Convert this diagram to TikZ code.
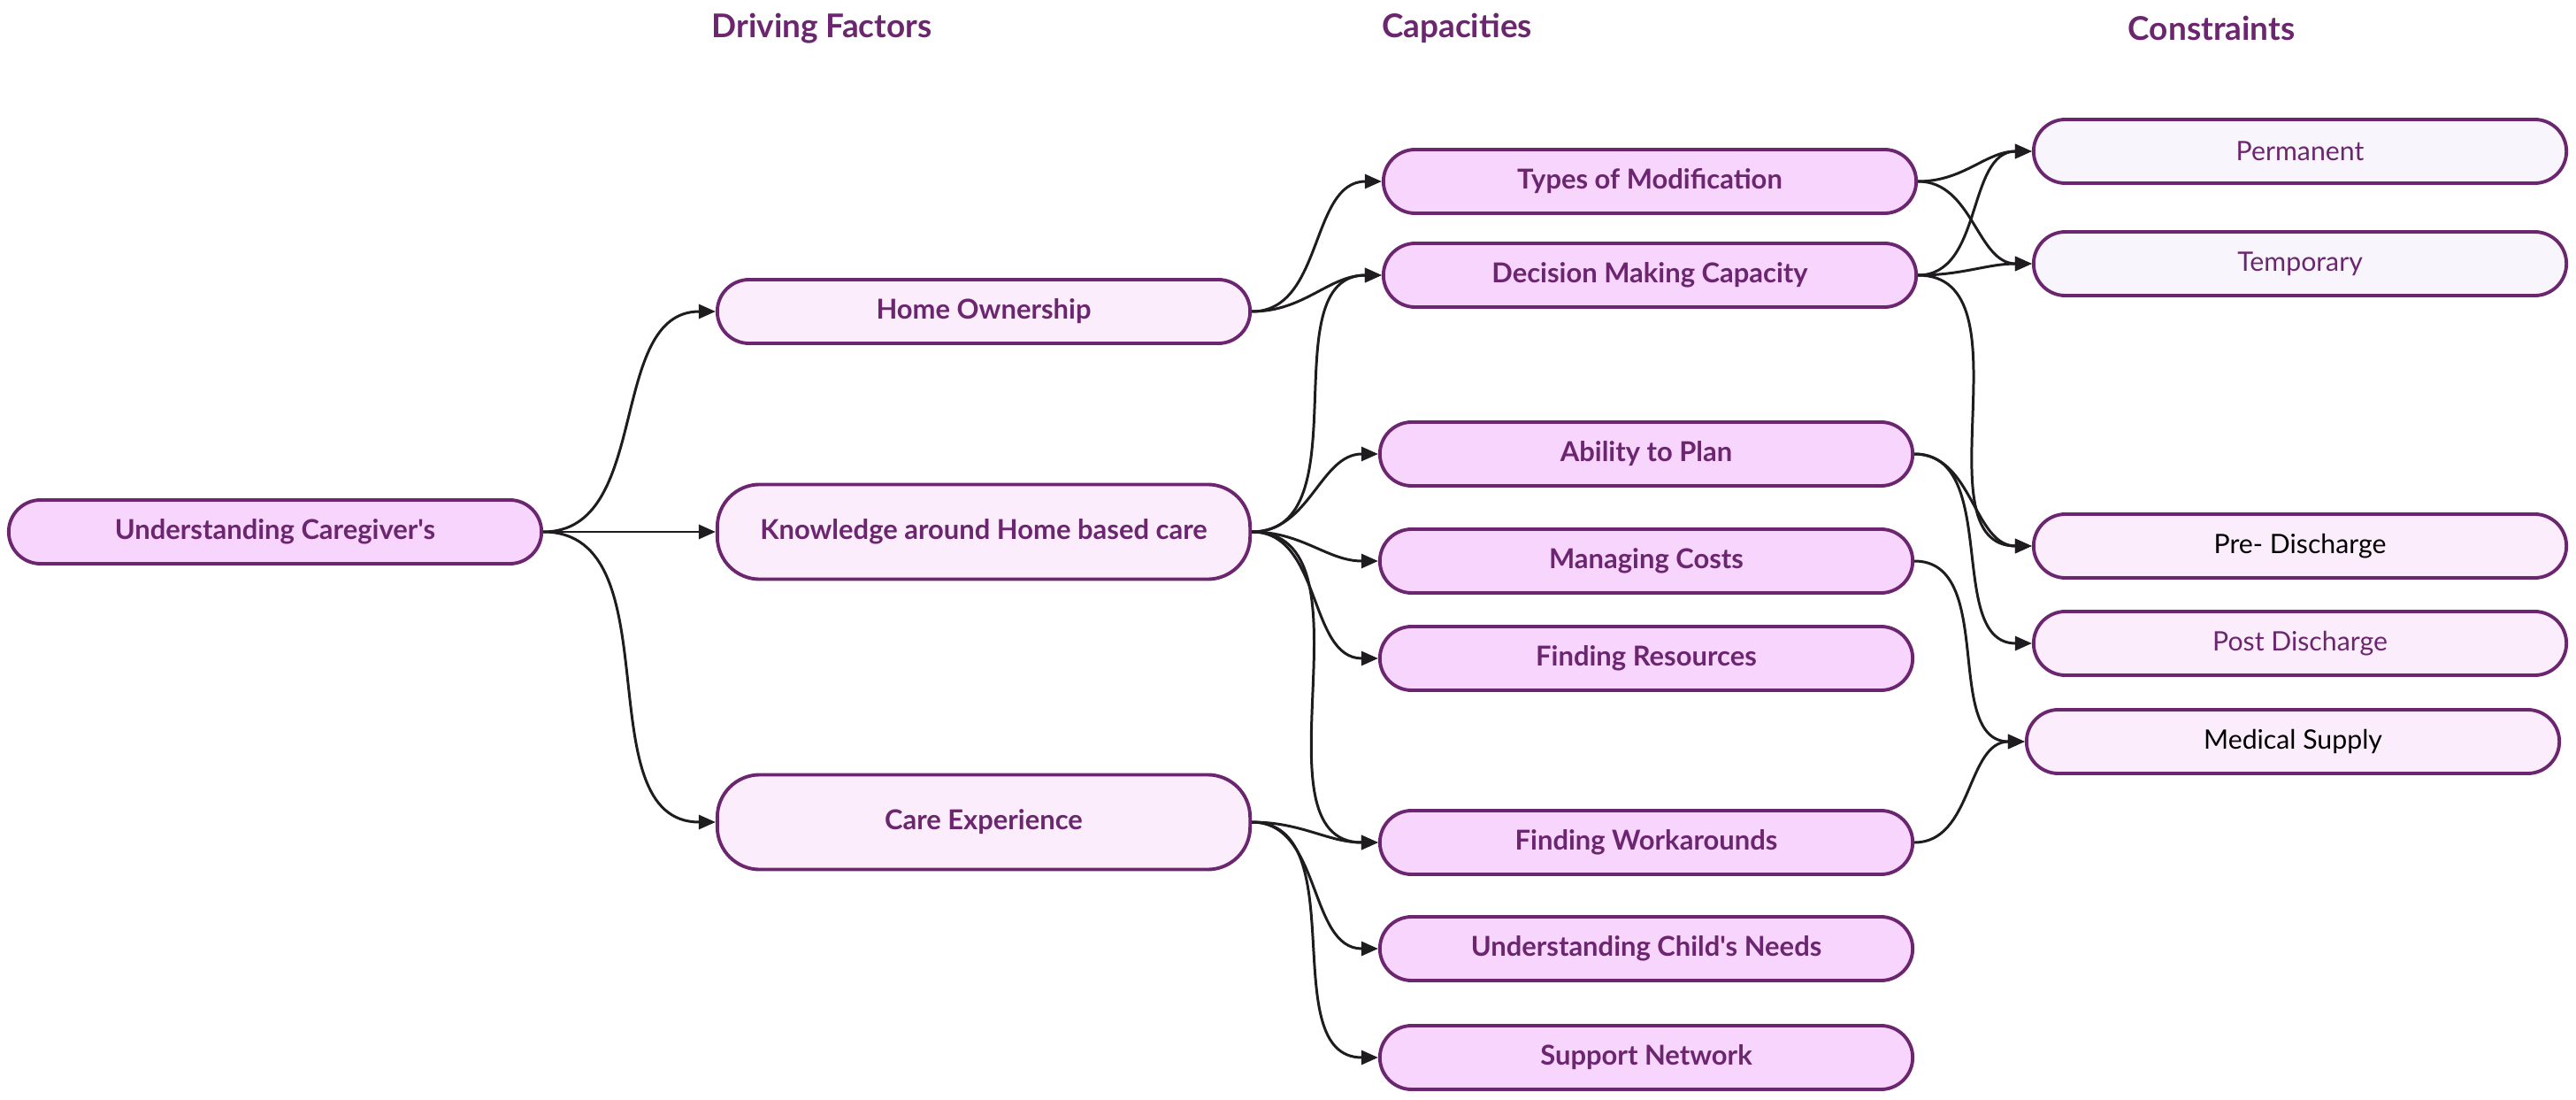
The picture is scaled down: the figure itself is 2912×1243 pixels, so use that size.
\documentclass[tikz,border=0pt]{standalone}
\usepackage{fontspec}
\setmainfont{Lato}[Ligatures=TeXOff]
\definecolor{plum}{RGB}{108,38,112}
\definecolor{pinkfill}{RGB}{247,213,253}
\definecolor{palefill}{RGB}{251,237,252}
\definecolor{lilacfill}{RGB}{248,246,252}
\definecolor{edgeink}{RGB}{30,28,30}
\usetikzlibrary{arrows.meta}

\begin{document}
\begin{tikzpicture}[x=0.01cm, y=-0.01cm,
  box/.style={draw=plum, line width=1.1pt, rounded corners=0.36cm, fill=pinkfill,
    minimum width=6.02cm, minimum height=0.72cm, inner sep=0pt, text=plum,
    font=\fontsize{8.8}{10.5}\selectfont\bfseries},
  factor/.style={box, fill=palefill},
  tallbox/.style={rounded corners=0.48cm, minimum height=1.07cm},
  limit/.style={box, fill=lilacfill, font=\fontsize{8.6}{10.3}\selectfont},
  phase/.style={box, fill=palefill, font=\fontsize{8.6}{10.3}\selectfont},
  heading/.style={text=plum, font=\fontsize{10.5}{12.5}\selectfont\bfseries},
  link/.style={draw=edgeink, line width=0.85pt, -{Triangle[length=0.19cm,width=0.16cm]}}]
\useasboundingbox (0,0) rectangle (2912,1243);

% Column headings
\node[heading] (hdrive) at (929,32) {Driving Factors};
\node[heading] (hcap) at (1647,32) {Capacities};
\node[heading] (hcons) at (2500,32) {Constraints};

% Root
\node[box] (carer) at (311,601) {Understanding Caregiver's};

% Driving factors
\node[factor] (own) at (1112,352) {Home Ownership};
\node[factor, tallbox] (know) at (1112,601) {Knowledge around Home based care};
\node[factor, tallbox] (exp) at (1112,929) {Care Experience};

% Capacities
\node[box] (types) at (1865,205) {Types of Modification};
\node[box] (decide) at (1865,311) {Decision Making Capacity};
\node[box] (plan) at (1861,513) {Ability to Plan};
\node[box] (costs) at (1861,634) {Managing Costs};
\node[box] (resrc) at (1861,744) {Finding Resources};
\node[box] (workar) at (1861,952) {Finding Workarounds};
\node[box] (needs) at (1861,1072) {Understanding Child's Needs};
\node[box] (network) at (1861,1195) {Support Network};

% Constraints
\node[limit] (perm) at (2600,171) {Permanent};
\node[limit] (temp) at (2600,298) {Temporary};
\node[phase, text=black] (pre) at (2600,617) {Pre- Discharge};
\node[phase] (post) at (2600,727) {Post Discharge};
\node[phase, text=black] (supply) at (2592,838) {Medical Supply};

% Links
\draw[link] (carer.east) to[out=0,in=180] (own.west);
\draw[link] (carer.east) -- (know.west);
\draw[link] (carer.east) to[out=0,in=180] (exp.west);

\draw[link] (own.east) to[out=0,in=180] (types.west);
\draw[link] (own.east) to[out=0,in=180] (decide.west);

\draw[link] (know.east) to[out=0,in=180] (decide.west);
\draw[link] (know.east) to[out=0,in=180] (plan.west);
\draw[link] (know.east) to[out=0,in=180] (costs.west);
\draw[link] (know.east) to[out=0,in=180] (resrc.west);
\draw[link] (know.east) to[out=0,in=180] (workar.west);

\draw[link] (exp.east) to[out=0,in=180] (workar.west);
\draw[link] (exp.east) to[out=0,in=180] (needs.west);
\draw[link] (exp.east) to[out=0,in=180] (network.west);

\draw[link] (types.east) to[out=0,in=180] (perm.west);
\draw[link] (types.east) to[out=0,in=180] (temp.west);
\draw[link] (decide.east) to[out=0,in=180] (perm.west);
\draw[link] (decide.east) to[out=0,in=180] (temp.west);
\draw[link] (decide.east) to[out=0,in=180] (pre.west);

\draw[link] (plan.east) to[out=0,in=180] (pre.west);
\draw[link] (plan.east) to[out=0,in=180] (post.west);
\draw[link] (costs.east) to[out=0,in=180] (supply.west);
\draw[link] (workar.east) to[out=0,in=180] (supply.west);
\end{tikzpicture}
\end{document}
